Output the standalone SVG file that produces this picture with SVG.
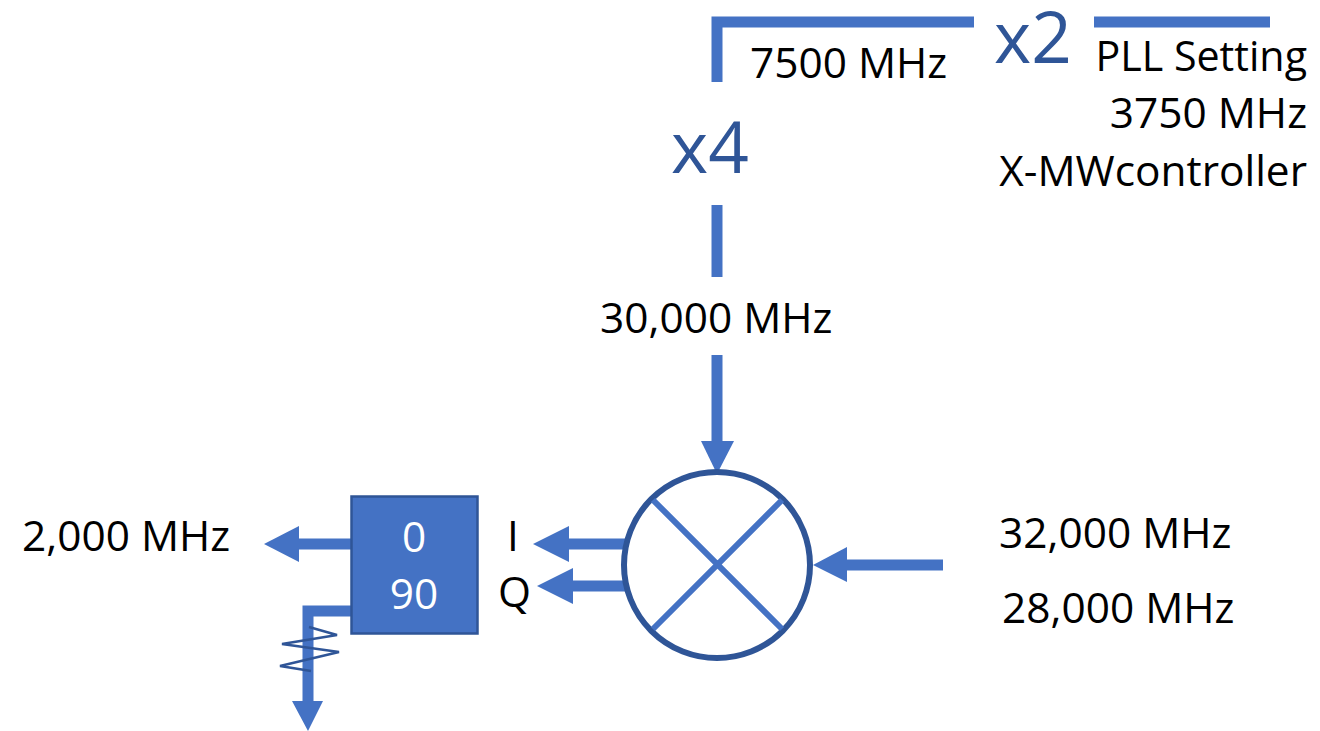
<svg xmlns="http://www.w3.org/2000/svg" width="1320" height="731" viewBox="0 0 1320 731">
<style>
text{font-family:"Open Sans","Noto Sans","Liberation Sans",sans-serif;font-size:42.400px;fill:#000}
.big{font-size:71px;fill:#2F5597}
.w{fill:#fff}
.e{text-anchor:end}
.m{text-anchor:middle}
.ln{fill:none;stroke:#4472C4;stroke-width:11}
.hd{fill:#4472C4}
</style>
<rect width="1320" height="731" fill="#fff"/>
<g id="connectors">
<path class="ln" d="M717 82V22H974"/>
<path class="ln" d="M1094 22H1270"/>
<path class="ln" d="M717 205V277"/>
<path class="ln" d="M717 355V441"/>
<path class="hd" d="M701 441H734L717 474Z"/>
<path class="ln" d="M943 565H847"/>
<path class="hd" d="M847 547V582L813 565Z"/>
<path class="ln" d="M626 544H569"/>
<path class="hd" d="M569 526V562L533 544Z"/>
<path class="ln" d="M626 586H573"/>
<path class="hd" d="M573 568V604L537 586Z"/>
<path class="ln" d="M351 544H299"/>
<path class="hd" d="M299 526V562L264 544Z"/>
<path class="ln" d="M351 611H308V701"/>
<path class="hd" d="M292 701H323L308 731Z"/>
<path id="resistor" d="M309 627L337 635L282 644L339 652L280 666L311 671" fill="none" stroke="#2F5597" stroke-width="2.5"/>
</g>
<g id="mixer">
<circle cx="717" cy="565" r="93" fill="none" stroke="#2F5597" stroke-width="6"/>
<path d="M653 500L782 629M782 500L653 629" fill="none" stroke="#4472C4" stroke-width="6"/>
</g>
<g id="splitter">
<rect x="351.500" y="496.500" width="126" height="137" fill="#4472C4" stroke="#2F5597" stroke-width="2.500"/>
<text class="w m" x="414" y="552">0</text>
<text class="w m" x="414" y="609">90</text>
</g>
<g id="labels">
<text x="750" y="78">7500 MHz</text>
<text class="big" x="994" y="63">x2</text>
<text class="e" x="1307" y="71" style="font-size:41.200px">PLL Setting</text>
<text class="e" x="1307" y="128">3750 MHz</text>
<text class="e" x="1307" y="186">X-MWcontroller</text>
<text class="big" x="671" y="173">x4</text>
<text x="600" y="333">30,000 MHz</text>
<text x="22" y="551">2,000 MHz</text>
<text x="507" y="551">I</text>
<text x="498" y="607">Q</text>
<text x="999" y="548">32,000 MHz</text>
<text x="1002" y="623">28,000 MHz</text>
</g>
</svg>
